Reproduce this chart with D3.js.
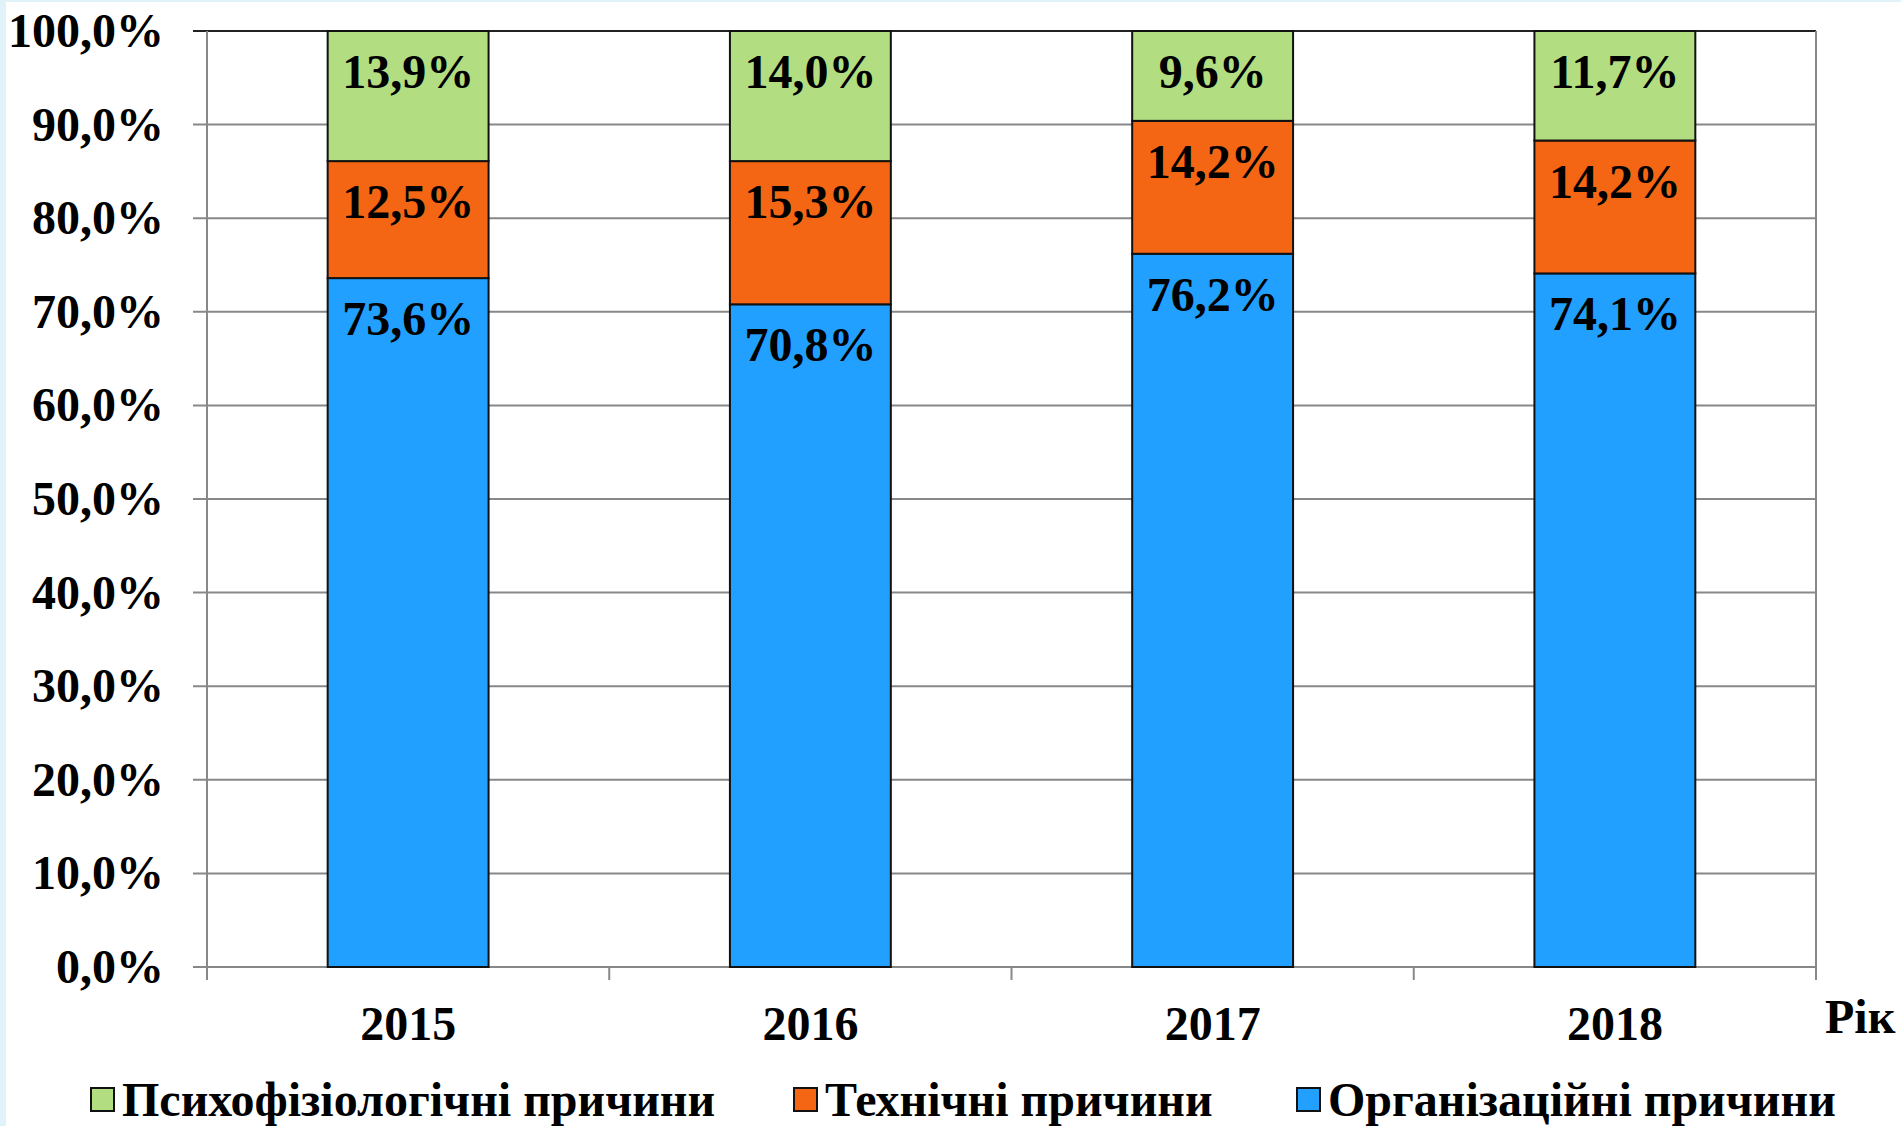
<!DOCTYPE html>
<html>
<head>
<meta charset="utf-8">
<script src="https://cdn.jsdelivr.net/npm/d3@7"></script>
<style>
  html, body { margin: 0; padding: 0; background: #dff3f8; }
  svg { display: block; }
  text { font-family: "Liberation Serif", "Times New Roman", serif; font-weight: bold; fill: #000; }
</style>
</head>
<body>
<svg id="chart" width="1901" height="1126"></svg>
<script>
const years = ["2015", "2016", "2017", "2018"];
const organizational = [73.6, 70.8, 76.2, 74.1];
const technical = [12.5, 15.3, 14.2, 14.2];
const psycho = [13.9, 14.0, 9.6, 11.7];
const seriesNames = ["Психофізіологічні причини", "Технічні причини", "Організаційні причини"];
const yTicks = [0, 10, 20, 30, 40, 50, 60, 70, 80, 90, 100];
const axisTitle = "Рік";

const colors = { org: "#22a0ff", tech: "#f56614", psy: "#b2dd80" };
const FS = 48;

const svg = d3.select("#chart");
svg.append("rect").attr("x", 6).attr("y", 2).attr("width", 1895).attr("height", 1124).attr("fill", "#fff");

const pLeft = 207, pRight = 1816, pTop = 31, pBottom = 967;
const x = d3.scaleBand().domain(years).range([pLeft, pRight]).paddingInner(0.6).paddingOuter(0.3);
const y = d3.scaleLinear().domain([0, 100]).range([pBottom, pTop]);
const loc = d3.formatLocale({ decimal: ",", thousands: " ", grouping: [3], currency: ["", ""] });
const fmt1 = loc.format(".1f");

// gridlines
svg.append("g").selectAll("line").data(yTicks).join("line")
  .attr("x1", pLeft - 14).attr("x2", pRight)
  .attr("y1", d => y(d)).attr("y2", d => y(d))
  .attr("stroke", d => d === 100 ? "#222" : "#888").attr("stroke-width", 2);

// right border
svg.append("line").attr("x1", pRight).attr("x2", pRight).attr("y1", pTop).attr("y2", pBottom)
  .attr("stroke", "#888").attr("stroke-width", 2);
// left axis
svg.append("line").attr("x1", pLeft).attr("x2", pLeft).attr("y1", pTop).attr("y2", pBottom + 13)
  .attr("stroke", "#888").attr("stroke-width", 2);

// x tick marks at band boundaries
const step = x.step();
const boundaries = years.map((d, i) => pLeft + i * step).concat([pRight]);
svg.append("g").selectAll("line").data(boundaries).join("line")
  .attr("x1", d => d).attr("x2", d => d).attr("y1", pBottom).attr("y2", pBottom + 13)
  .attr("stroke", "#888").attr("stroke-width", 2);

// y labels
svg.append("g").selectAll("text").data(yTicks).join("text")
  .attr("x", 164).attr("y", d => y(d) + 16)
  .attr("text-anchor", "end").attr("font-size", FS)
  .text(d => fmt1(d) + "%");

// stacked data
const rows = years.map((yr, i) => ({ year: yr, org: organizational[i], tech: technical[i], psy: psycho[i] }));
const stack = d3.stack().keys(["org", "tech", "psy"])(rows);

const g = svg.append("g");
stack.forEach(layer => {
  const key = layer.key;
  g.selectAll(null).data(layer).join("rect")
    .attr("x", d => x(d.data.year))
    .attr("width", x.bandwidth())
    .attr("y", d => y(Math.min(d[1], 100)))
    .attr("height", d => y(d[0]) - y(Math.min(d[1], 100)))
    .attr("fill", colors[key])
    .attr("stroke", "#111").attr("stroke-width", 2);
  g.selectAll(null).data(layer).join("text")
    .attr("x", d => x(d.data.year) + x.bandwidth() / 2)
    .attr("y", d => y(Math.min(d[1], 100)) + 57)
    .attr("text-anchor", "middle").attr("font-size", FS)
    .text(d => fmt1(d.data[key]) + "%");
});

// x labels
svg.append("g").selectAll("text").data(years).join("text")
  .attr("x", d => x(d) + x.bandwidth() / 2).attr("y", 1040)
  .attr("text-anchor", "middle").attr("font-size", FS)
  .text(d => d);

svg.append("text").attr("x", 1825).attr("y", 1033).attr("font-size", FS).text(axisTitle);

// legend
const legendX = [91, 794, 1297];
const legendColors = [colors.psy, colors.tech, colors.org];
const lg = svg.append("g");
seriesNames.forEach((name, i) => {
  lg.append("rect").attr("x", legendX[i]).attr("y", 1088).attr("width", 23).attr("height", 23)
    .attr("fill", legendColors[i]).attr("stroke", "#111").attr("stroke-width", 2);
  lg.append("text").attr("x", legendX[i] + 31).attr("y", 1116).attr("font-size", FS).text(name);
});
</script>
</body>
</html>
